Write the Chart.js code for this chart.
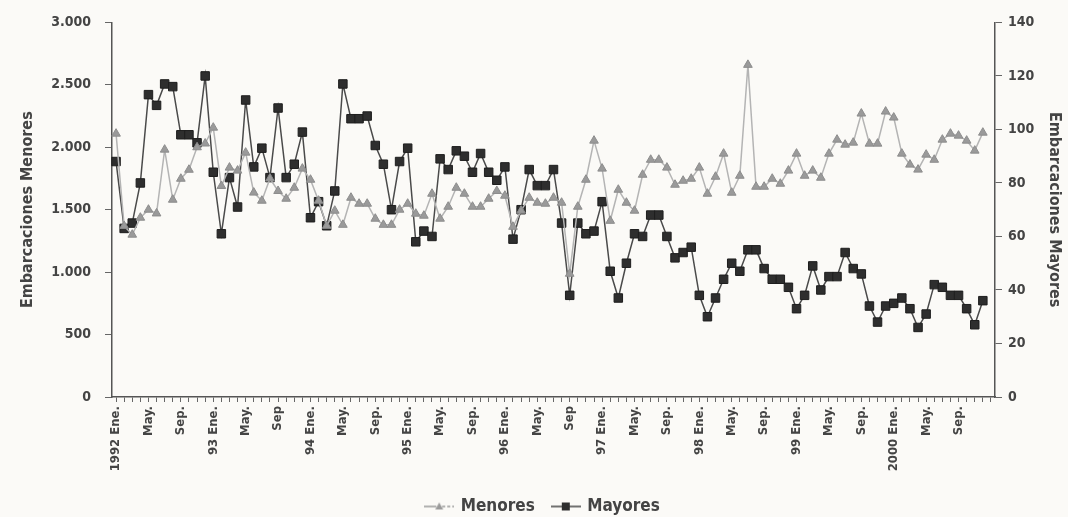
<!DOCTYPE html>
<html>
<head>
<meta charset="utf-8">
<script src="https://cdn.jsdelivr.net/npm/chart.js@4/dist/chart.umd.min.js"></script>
<style>
html, body { margin: 0; background: #fbfaf7; }
#wrap { width: 1068px; height: 517px; }
</style>
</head>
<body>
<div id="wrap"><canvas id="chart" width="1068" height="517"></canvas></div>
<script>
// tick labels, one every 4 months (Ene., May., Sep.)
var tickLabels = [
    '1992 Ene.', 'May.', 'Sep.', '93 Ene.', 'May.', 'Sep', '94 Ene.', 'May.', 'Sep.',
    '95 Ene.', 'May.', 'Sep.', '96 Ene.', 'May.', 'Sep', '97 Ene.', 'May.', 'Sep.',
    '98 Ene.', 'May.', 'Sep.', '99 Ene.', 'May.', 'Sep.', '2000 Ene.', 'May.', 'Sep.'
];

// monthly values, Jan 1992 - Dec 2000
var menores = [
    2109, 1370, 1300, 1436, 1500, 1470, 1981, 1580, 1748, 1820, 2000, 2030,
    2157, 1690, 1837, 1813, 1957, 1637, 1572, 1750, 1650, 1588, 1676, 1829,
    1740, 1572, 1371, 1492, 1379, 1596, 1548, 1548, 1428, 1379, 1379, 1500,
    1548, 1468, 1452, 1628, 1428, 1524, 1676, 1628, 1524, 1524, 1588, 1650,
    1612, 1363, 1492, 1596, 1556, 1548, 1596, 1556, 987, 1524, 1740, 2053,
    1829, 1411, 1660, 1556, 1492, 1780, 1900, 1900, 1837, 1700, 1732, 1748,
    1837, 1628, 1764, 1949, 1636, 1772, 2660, 1684, 1684, 1748, 1708, 1813,
    1949, 1772, 1813, 1756, 1949, 2061, 2021, 2037, 2270, 2029, 2029, 2286,
    2238, 1949, 1861, 1821, 1941, 1900, 2061, 2109, 2093, 2053, 1973, 2117
];
var mayores = [
    88, 63, 65, 80, 113, 109, 117, 116, 98, 98, 95, 120,
    84, 61, 82, 71, 111, 86, 93, 82, 108, 82, 87, 99,
    67, 73, 64, 77, 117, 104, 104, 105, 94, 87, 70, 88,
    93, 58, 62, 60, 89, 85, 92, 90, 84, 91, 84, 81,
    86, 59, 70, 85, 79, 79, 85, 65, 38, 65, 61, 62,
    73, 47, 37, 50, 61, 60, 68, 68, 60, 52, 54, 56,
    38, 30, 37, 44, 50, 47, 55, 55, 48, 44, 44, 41,
    33, 38, 49, 40, 45, 45, 54, 48, 46, 34, 28, 34,
    35, 37, 33, 26, 31, 42, 41, 38, 38, 33, 27, 36
];

var FONT = "'Liberation Sans Narrow', 'DejaVu Sans Condensed', sans-serif";
var MENORES_COLOR = '#9a9a9a';
var MAYORES_COLOR = '#2e2e2e';

// one category per month plus one empty slot at the end
var categories = [];
for (var i = 0; i <= menores.length; i++) {
    categories.push(tickLabels[i / 4] || '');
}

function fmtThousands(v) {
    return String(v).replace(/\B(?=(\d{3})+(?!\d))/g, '.');
}

// legend swatch: line with marker
function legendIcon(lineColor, fillColor, style, dashed) {
    var c = document.createElement('canvas');
    c.width = 30; c.height = 12;
    var ctx = c.getContext('2d');
    ctx.strokeStyle = lineColor;
    ctx.lineWidth = 1.5;
    ctx.beginPath(); ctx.moveTo(0, 6); ctx.lineTo(12, 6); ctx.stroke();
    if (dashed) ctx.setLineDash([3, 2]);
    ctx.beginPath(); ctx.moveTo(18, 6); ctx.lineTo(30, 6); ctx.stroke();
    ctx.fillStyle = fillColor;
    if (style == 'triangle') {
        ctx.beginPath(); ctx.moveTo(15, 2); ctx.lineTo(19, 9); ctx.lineTo(11, 9); ctx.closePath(); ctx.fill();
    } else {
        ctx.fillRect(11, 2, 8, 8);
    }
    return c;
}

var icons = [
    legendIcon('#9a9a9a', MENORES_COLOR, 'triangle', true),
    legendIcon('#444', MAYORES_COLOR, 'rect', false)
];

var axisColor = '#555';

new Chart(document.getElementById('chart'), {
    type: 'line',
    data: {
        labels: categories,
        datasets: [
            {
                label: 'Menores',
                data: menores,
                yAxisID: 'y',
                borderColor: '#b4b4b4',
                borderWidth: 1.5,
                pointStyle: 'triangle',
                pointRadius: 5,
                pointBackgroundColor: MENORES_COLOR,
                pointBorderColor: '#8c8c8c',
                pointBorderWidth: 1,
                tension: 0
            },
            {
                label: 'Mayores',
                data: mayores,
                yAxisID: 'y1',
                borderColor: '#4a4a4a',
                borderWidth: 1.5,
                pointStyle: 'rect',
                pointRadius: 6,
                pointBackgroundColor: MAYORES_COLOR,
                pointBorderColor: '#1e1e1e',
                pointBorderWidth: 1,
                tension: 0
            }
        ]
    },
    options: {
        responsive: false,
        animation: false,
        layout: { padding: { top: 22, left: 18, right: 0, bottom: -8 } },
        plugins: {
            tooltip: { enabled: false },
            legend: {
                position: 'bottom',
                labels: {
                    usePointStyle: true,
                    pointStyleWidth: 26,
                    boxHeight: 12,
                    padding: 18,
                    color: '#444',
                    font: { family: FONT, size: 17, weight: 'bold' },
                    generateLabels: function (chart) {
                        return chart.data.datasets.map(function (ds, k) {
                            return {
                                text: ds.label,
                                pointStyle: icons[k],
                                fillStyle: ds.borderColor,
                                strokeStyle: ds.borderColor,
                                lineWidth: 0,
                                fontColor: '#444',
                                datasetIndex: k
                            };
                        });
                    }
                }
            }
        },
        scales: {
            x: {
                type: 'category',
                offset: true,
                afterFit: function (s) { s.height = 83; },
                border: { display: true, color: axisColor, width: 1.5 },
                grid: { display: true, drawOnChartArea: false, drawTicks: true, tickLength: 5, color: '#666' },
                ticks: {
                    autoSkip: false,
                    maxRotation: 90,
                    minRotation: 90,
                    padding: 4,
                    color: '#444',
                    font: { family: FONT, size: 13, weight: 'bold' }
                }
            },
            y: {
                position: 'left',
                min: 0,
                max: 3000,
                afterFit: function (s) { s.width = 94; },
                border: { display: true, color: axisColor, width: 1.5 },
                grid: { display: true, drawOnChartArea: false, tickLength: 7, color: '#666' },
                ticks: {
                    stepSize: 500,
                    padding: 14,
                    color: '#444',
                    font: { family: FONT, size: 14, weight: 'bold' },
                    callback: function (v) { return fmtThousands(v); }
                },
                title: {
                    display: true,
                    text: 'Embarcaciones Menores',
                    color: '#444',
                    padding: { top: 0, bottom: 4 },
                    font: { family: FONT, size: 16, weight: 'bold' }
                }
            },
            y1: {
                position: 'right',
                min: 0,
                max: 140,
                afterFit: function (s) { s.width = 73; },
                border: { display: true, color: axisColor, width: 1.5 },
                grid: { display: true, drawOnChartArea: false, tickLength: 7, color: '#666' },
                ticks: {
                    stepSize: 20,
                    padding: 6,
                    color: '#444',
                    font: { family: FONT, size: 14, weight: 'bold' }
                },
                title: {
                    display: true,
                    text: 'Embarcaciones Mayores',
                    color: '#444',
                    padding: { top: 4, bottom: 0 },
                    font: { family: FONT, size: 16, weight: 'bold' }
                }
            }
        }
    }
});
</script>
</body>
</html>
